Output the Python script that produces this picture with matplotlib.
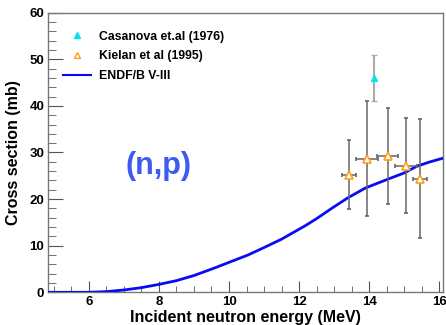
import matplotlib
matplotlib.use("Agg")
import matplotlib.pyplot as plt
from matplotlib.ticker import MultipleLocator
from matplotlib.lines import Line2D

plt.rcParams['font.family'] = ['Liberation Sans', 'DejaVu Sans']
plt.rcParams['font.weight'] = 'bold'

# Data
cas_e = [14.15]
cas_xs = [46.0]
cas_err = [5.0]

kie_e = [13.43, 13.95, 14.54, 15.06, 15.44]
kie_xs = [25.2, 28.7, 29.3, 27.2, 24.4]
kie_yerr = [7.4, 12.4, 10.3, 10.1, 12.7]
kie_xerr = [0.2, 0.31, 0.3, 0.32, 0.2]

endf_e = [4.84, 6.0, 6.5, 7.0, 7.5, 8.0, 8.5, 9.0, 9.58, 10.06, 10.54, 11.0,
          11.5, 12.18, 12.5, 12.95, 13.4, 13.9, 14.58, 15.0, 15.35, 15.7, 16.12]
endf_xs = [0.0, 0.0, 0.15, 0.5, 1.0, 1.7, 2.5, 3.6, 5.2, 6.6, 8.0, 9.6,
           11.4, 14.3, 15.8, 18.1, 20.3, 22.4, 24.4, 25.6, 27.0, 27.9, 28.8]

labels = ['Casanova et.al (1976)', 'Kielan et al (1995)', 'ENDF/B V-III']

fig = plt.figure(figsize=(4.46, 3.25), dpi=100)
ax = fig.add_axes([0.1083, 0.1006, 0.8857, 0.8604])

ax.plot(endf_e, endf_xs, color='#0a0af5', lw=2, zorder=3)
ax.errorbar(cas_e, cas_xs, yerr=cas_err, fmt='^', color='#00e5ee', ms=5,
            ecolor='#aaaaaa', elinewidth=1.5, capsize=2, zorder=4)
ax.errorbar(kie_e, kie_xs, yerr=kie_yerr, xerr=kie_xerr, fmt='^', mfc='white',
            mec='#ff9f1a', mew=1.2, ms=6, ecolor='#666666', elinewidth=1.1,
            capsize=1.5, zorder=4)

ax.set_xlim(4.84, 16.12)
ax.set_ylim(0, 60)
ax.xaxis.set_major_locator(MultipleLocator(2))
ax.xaxis.set_minor_locator(MultipleLocator(0.5))
ax.yaxis.set_major_locator(MultipleLocator(10))
ax.yaxis.set_minor_locator(MultipleLocator(2))
ax.tick_params(which='both', direction='in', top=False, right=False,
               color='#555555', labelsize=9.5)
ax.tick_params(axis='y', which='major', length=11, pad=3)
ax.tick_params(axis='y', which='minor', length=6)
ax.tick_params(axis='x', which='major', length=8, pad=3)
ax.tick_params(axis='x', which='minor', length=4)
for lab in ax.get_xticklabels() + ax.get_yticklabels():
    lab.set_fontweight('bold')
for s in ax.spines.values():
    s.set_color('#777777')
    s.set_linewidth(1)

ax.set_xlabel('Incident neutron energy (MeV)', fontsize=11.5, fontweight='bold', labelpad=1)
ax.set_ylabel('Cross section (mb)', fontsize=11.5, fontweight='bold', labelpad=6)

ax.text(0.28, 0.45, '(n,p)', transform=ax.transAxes, fontsize=22, fontweight='bold',
        color='#3d5af1', ha='center', va='center')

handles = [
    Line2D([], [], ls='none', marker='^', color='#00e5ee', ms=4.5),
    Line2D([], [], ls='none', marker='^', mfc='white', mec='#ff9f1a', mew=1, ms=5),
    Line2D([], [], color='#0a0af5', lw=1.5),
]
leg = ax.legend(handles, labels, loc='upper left',
                bbox_to_anchor=(0.01, 0.975), frameon=False, fontsize=8.8,
                handlelength=2.3, handletextpad=0.6, labelspacing=0.62)
for t in leg.get_texts():
    t.set_fontweight('bold')

fig.savefig('out.png', dpi=100)
